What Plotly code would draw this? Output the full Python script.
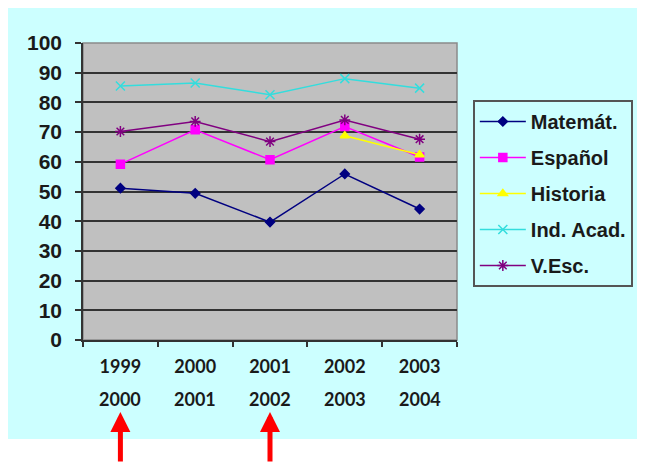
import plotly.graph_objects as go

# ---- data ----
periodo_ini = ["1999", "2000", "2001", "2002", "2003"]
periodo_fin = ["2000", "2001", "2002", "2003", "2004"]
matemat = [51.1, 49.4, 39.7, 55.9, 44.1]
espanol = [59.2, 70.8, 60.7, 71.9, 61.6]
historia = [None, None, None, 68.8, 62.4]
ind_acad = [85.5, 86.5, 82.6, 88.0, 84.8]
v_esc = [70.2, 73.6, 66.8, 74.1, 67.6]
y_ticks = [0, 10, 20, 30, 40, 50, 60, 70, 80, 90, 100]
marked_periods = [0, 2]  # categories pointed at by the red arrows

# ---- geometry (window pixels; page body has an 8px margin) ----
WIN_W, WIN_H = 645, 471
OFF = 8
FIG_W, FIG_H = WIN_W - OFF, WIN_H - 2 * OFF
L, R, T, B = 83, 461, 43, 340
PW, PH = R - L, B - T


def fx(p):
    return (p - L) / PW


def fy(p):
    return (B - p) / PH


series = [
    ("Matemát.", matemat, "#000080", "diamond", 7),
    ("Español", espanol, "#FF00FF", "square", 8),
    ("Historia", historia, "#FFFF00", "triangle-up", 8),
    ("Ind. Acad.", ind_acad, "#33DDDD", "x-thin-open", 9),
    ("V.Esc.", v_esc, "#800080", "asterisk-open", 9),
]

xs = list(range(len(periodo_ini)))

fig = go.Figure()
for i, (name, vals, col, sym, sz) in enumerate(series):
    fig.add_trace(go.Scatter(
        x=xs, y=vals, name=name, mode="lines+markers",
        legendgroup=f"g{i}",
        line=dict(color=col, width=1.5),
        marker=dict(symbol=sym, size=sz, color=col,
                    line=dict(color=col, width=1.5)),
        connectgaps=False,
    ))

shapes = [
    dict(type="rect", xref="paper", yref="paper", layer="below",
         x0=fx(0), x1=fx(WIN_W + 5), y0=fy(439), y1=fy(7),
         fillcolor="#CCFFFF", line=dict(width=0)),
    dict(type="rect", xref="paper", yref="paper", layer="below",
         x0=0, x1=1, y0=0, y1=1,
         fillcolor="#C0C0C0", line=dict(color="#8A8A8A", width=1.5)),
]

annotations = []
for i, t in enumerate(periodo_fin):
    annotations.append(dict(
        x=i, xref="x", y=fy(399), yref="paper", text=t, showarrow=False,
        xanchor="center", yanchor="middle",
        font=dict(family="Lato", size=18, color="#1a1a1a", weight="bold"),
    ))
for i in marked_periods:
    annotations.append(dict(
        x=i, xref="x", y=fy(412), yref="paper", text="", showarrow=True,
        ax=0, ay=52, axref="pixel", ayref="pixel",
        arrowcolor="#FF0000", arrowwidth=5, arrowhead=2, arrowsize=0.8,
        standoff=0,
    ))

fig.update_layout(
    width=FIG_W, height=FIG_H,
    margin=dict(l=L - OFF, r=OFF + FIG_W - R, t=T - OFF, b=OFF + FIG_H - B,
                pad=0),
    paper_bgcolor="white",
    plot_bgcolor="#C0C0C0",
    showlegend=True,
    legend=dict(
        x=fx(477), y=fy(100), xanchor="left", yanchor="top",
        bgcolor="#CCFFFF", bordercolor="#555555", borderwidth=2,
        font=dict(family="Liberation Sans, Arial", size=20, color="#1a1a1a",
                  weight="bold"),
        tracegroupgap=7, traceorder="grouped", itemwidth=46,
    ),
    shapes=shapes,
    annotations=annotations,
)

fig.update_xaxes(
    type="linear", range=[-0.5, len(xs) - 0.5],
    tickmode="array", tickvals=xs, ticktext=periodo_ini,
    showgrid=False, zeroline=False,
    showline=True, linecolor="#333333", linewidth=1.5,
    ticks="",
    tickfont=dict(family="Lato", size=18, color="#1a1a1a", weight="bold"),
    ticklabelstandoff=10,
)
# tick marks at category boundaries via minor ticks
fig.update_xaxes(minor=dict(tickmode="array",
                            tickvals=[i - 0.5 for i in range(len(xs) + 1)],
                            ticks="outside", ticklen=5, tickcolor="#333333",
                            tickwidth=1.5, showgrid=False))

fig.update_yaxes(
    range=[0, 100], tickmode="array", tickvals=y_ticks,
    showgrid=True, gridcolor="#333333", gridwidth=1.8,
    zeroline=False,
    showline=True, linecolor="#333333", linewidth=1.5,
    ticks="outside", ticklen=6, tickcolor="#333333", tickwidth=1.5,
    tickfont=dict(family="Liberation Sans, Arial", size=21, color="#1a1a1a",
                  weight="bold"),
    ticklabelstandoff=9,
)

fig.write_html("out.html")
